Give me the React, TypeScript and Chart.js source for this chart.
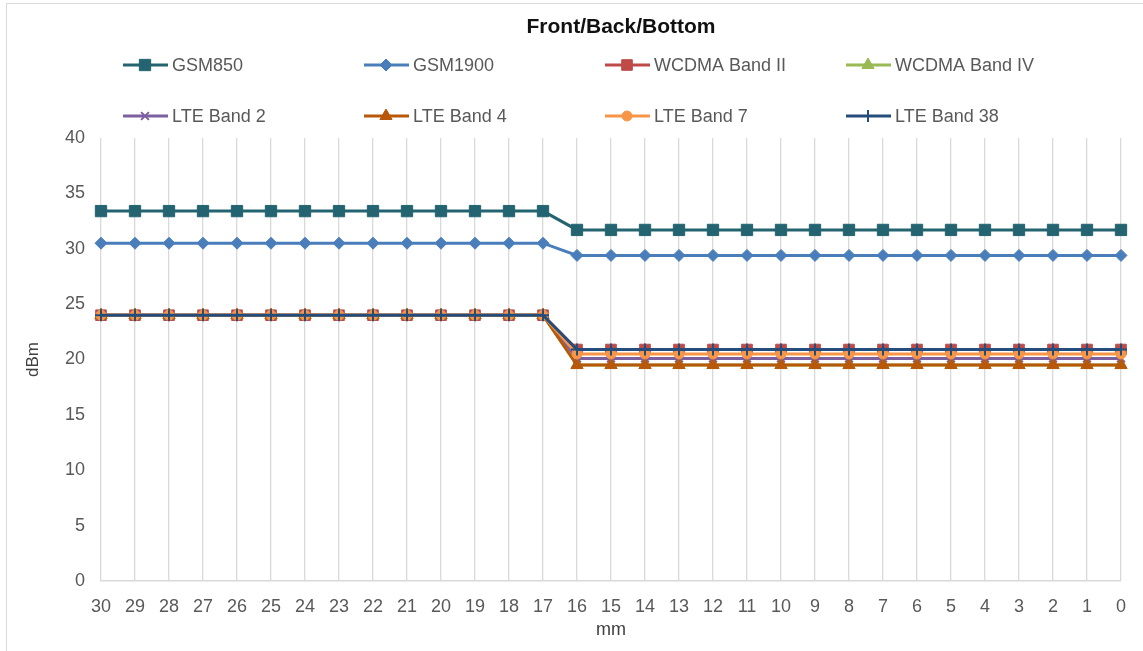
import React, { useEffect, useRef } from "react";
import { Chart, registerables } from "chart.js";
import { drawPoint } from "chart.js/helpers";

Chart.register(...registerables);

const categories = ["30","29","28","27","26","25","24","23","22","21","20","19","18","17","16","15","14","13","12","11","10","9","8","7","6","5","4","3","2","1","0"];

const gsm850 = [33.4,33.4,33.4,33.4,33.4,33.4,33.4,33.4,33.4,33.4,33.4,33.4,33.4,33.4,31.7,31.7,31.7,31.7,31.7,31.7,31.7,31.7,31.7,31.7,31.7,31.7,31.7,31.7,31.7,31.7,31.7];
const gsm1900 = [30.5,30.5,30.5,30.5,30.5,30.5,30.5,30.5,30.5,30.5,30.5,30.5,30.5,30.5,29.4,29.4,29.4,29.4,29.4,29.4,29.4,29.4,29.4,29.4,29.4,29.4,29.4,29.4,29.4,29.4,29.4];
const wcdmaBand2 = [24,24,24,24,24,24,24,24,24,24,24,24,24,24,20.9,20.9,20.9,20.9,20.9,20.9,20.9,20.9,20.9,20.9,20.9,20.9,20.9,20.9,20.9,20.9,20.9];
const wcdmaBand4 = [24,24,24,24,24,24,24,24,24,24,24,24,24,24,19.5,19.5,19.5,19.5,19.5,19.5,19.5,19.5,19.5,19.5,19.5,19.5,19.5,19.5,19.5,19.5,19.5];
const lteBand2 = [24,24,24,24,24,24,24,24,24,24,24,24,24,24,20.1,20.1,20.1,20.1,20.1,20.1,20.1,20.1,20.1,20.1,20.1,20.1,20.1,20.1,20.1,20.1,20.1];
const lteBand4 = [24,24,24,24,24,24,24,24,24,24,24,24,24,24,19.5,19.5,19.5,19.5,19.5,19.5,19.5,19.5,19.5,19.5,19.5,19.5,19.5,19.5,19.5,19.5,19.5];
const lteBand7 = [24,24,24,24,24,24,24,24,24,24,24,24,24,24,20.5,20.5,20.5,20.5,20.5,20.5,20.5,20.5,20.5,20.5,20.5,20.5,20.5,20.5,20.5,20.5,20.5];
const lteBand38 = [24,24,24,24,24,24,24,24,24,24,24,24,24,24,20.9,20.9,20.9,20.9,20.9,20.9,20.9,20.9,20.9,20.9,20.9,20.9,20.9,20.9,20.9,20.9,20.9];

const yTicks = [0, 5, 10, 15, 20, 25, 30, 35, 40];

const chartTitle = "Front/Back/Bottom";
const seriesNames = ["GSM850","GSM1900","WCDMA Band II","WCDMA Band IV","LTE Band 2","LTE Band 4","LTE Band 7","LTE Band 38"];
const seriesValues = [gsm850, gsm1900, wcdmaBand2, wcdmaBand4, lteBand2, lteBand4, lteBand7, lteBand38];
const seriesColors = ["#246470","#4A7EBB","#BE4B48","#98B954","#7D60A0","#B8580A","#F79646","#254D7C"];
const seriesStyles = ["rect","rectRot","rect","triangle","crossRot","triangle","circle","cross"];
const seriesRadius = [8, 6, 7.5, 7, 5.5, 7, 5, 6];

const TEXT = "#595959";
const FONT = "'Liberation Sans', Arial, sans-serif";

const legendPlugin = {
  id: "excelLegend",
  afterDraw(chart: any) {
    const ctx = chart.ctx;
    const area = chart.chartArea;
    ctx.save();
    // title
    ctx.fillStyle = "#111111";
    ctx.font = `bold 21px ${FONT}`;
    ctx.textAlign = "center";
    ctx.textBaseline = "middle";
    ctx.fillText(chartTitle, (area.left + area.right) / 2 + 10, 27);
    // legend
    const left = area.left + 22;
    const colW = 241;
    const rows = [65, 116];
    chart.data.datasets.forEach((ds: any, i: number) => {
      const col = i % 4;
      const row = Math.floor(i / 4);
      const x = left + col * colW;
      const y = rows[row];
      ctx.strokeStyle = ds.borderColor;
      ctx.lineWidth = 3;
      ctx.beginPath();
      ctx.moveTo(x, y);
      ctx.lineTo(x + 45, y);
      ctx.stroke();
      ctx.fillStyle = ds.pointBackgroundColor;
      ctx.strokeStyle = ds.pointBorderColor;
      ctx.lineWidth = ds.pointBorderWidth;
      drawPoint(ctx, { pointStyle: ds.pointStyle, radius: ds.pointRadius, rotation: 0, borderWidth: ds.pointBorderWidth }, x + 22, y);
      ctx.fillStyle = TEXT;
      ctx.font = `18px ${FONT}`;
      ctx.textAlign = "left";
      ctx.textBaseline = "middle";
      ctx.fillText(ds.label, x + 49, y + 1);
    });
    ctx.restore();
  },
};

export default function App() {
  const ref = useRef<HTMLCanvasElement | null>(null);
  useEffect(() => {
    if (!ref.current) return;
    const datasets = seriesNames.map((name, i) => {
      const lineLike = seriesStyles[i] === "cross" || seriesStyles[i] === "crossRot";
      return {
        label: name,
        data: seriesValues[i],
        borderColor: seriesColors[i],
        backgroundColor: seriesColors[i],
        borderWidth: 3,
        pointStyle: seriesStyles[i],
        pointRadius: seriesRadius[i],
        pointHoverRadius: seriesRadius[i],
        pointBackgroundColor: seriesColors[i],
        pointBorderColor: seriesColors[i],
        pointBorderWidth: lineLike ? 2 : 1,
        tension: 0,
        fill: false,
        order: seriesNames.length - i,
      };
    });
    const chart = new Chart(ref.current, {
      type: "line",
      data: { labels: categories, datasets },
      plugins: [legendPlugin],
      options: {
        animation: false,
        responsive: false,
        layout: { padding: { left: 20, right: 22, top: 138, bottom: 0 } },
        plugins: {
          legend: { display: false },
          tooltip: { enabled: false },
          title: { display: false },
        },
        scales: {
          x: {
            type: "category",
            offset: false,
            grid: { display: true, color: "#d9d9d9", lineWidth: 1.3, drawTicks: false, offset: false },
            border: { display: true, color: "#d9d9d9", width: 1.5 },
            ticks: { color: TEXT, font: { family: FONT, size: 18 }, padding: 15, maxRotation: 0, autoSkip: false },
            title: { display: true, text: "mm", color: "#404040", font: { family: FONT, size: 18, lineHeight: 1.2 }, padding: { top: 0, bottom: 10 } },
            afterFit: (s: any) => { s.height = 70; },
          },
          y: {
            min: 0,
            max: 40,
            afterBuildTicks: (s: any) => { s.ticks = yTicks.map((v) => ({ value: v })); },
            grid: { display: false, drawTicks: false },
            border: { display: false },
            ticks: { color: TEXT, font: { family: FONT, size: 18 }, padding: 16 },
            title: { display: true, text: "dBm", color: "#404040", font: { family: FONT, size: 17, lineHeight: 1.2 }, padding: { top: 3, bottom: 3 } },
            afterFit: (s: any) => { s.width = 81; },
          },
        },
      } as any,
    });
    return () => chart.destroy();
  }, []);
  return (
    <div style={{ position: "fixed", left: 0, top: 0, width: 1143, height: 651, background: "#fff", overflow: "hidden" }}>
      <div style={{ position: "absolute", left: 6, top: 3, width: 1300, height: 800, borderLeft: "1.5px solid #d9d9d9", borderTop: "1.5px solid #d9d9d9", boxSizing: "border-box" }} />
      <canvas ref={ref} width={1143} height={651} style={{ position: "absolute", left: 0, top: 0, width: 1143, height: 651 }} />
    </div>
  );
}
